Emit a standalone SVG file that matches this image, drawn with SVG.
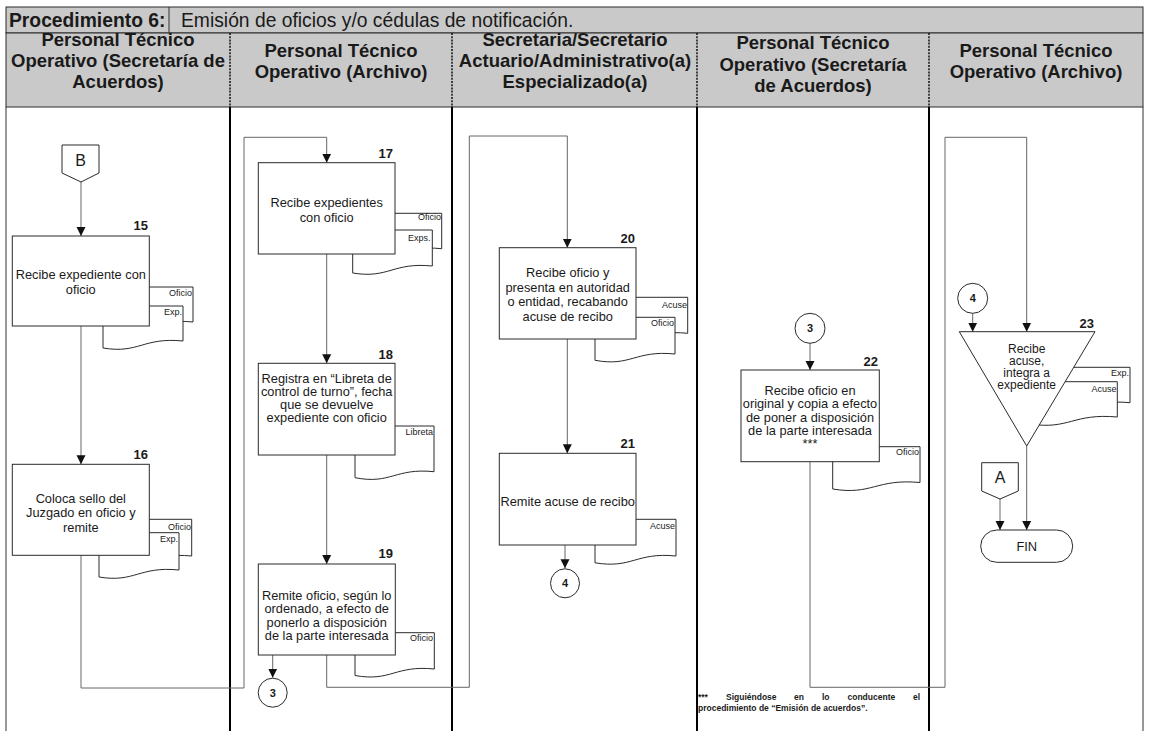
<svg xmlns="http://www.w3.org/2000/svg" width="1149" height="731" viewBox="0 0 1149 731">
<defs>
  <marker id="arr" viewBox="0 0 10 10" refX="10" refY="5" markerWidth="9" markerHeight="10" markerUnits="userSpaceOnUse" orient="auto">
    <path d="M0,0 L10,5 L0,10 Z" fill="#111"/>
  </marker>
</defs>
<style>
  text{font-family:"Liberation Sans",Arial,sans-serif;fill:#1a1a1a}
  .band{fill:#c9c9c9;stroke:#2a2a2a;stroke-width:1}
  .ttl{font-size:19.3px}
  .hd{font-size:18.5px;font-weight:bold;text-anchor:middle}
  .sep{stroke:#111;stroke-width:1.5;stroke-dasharray:2 1.2}
  .lane{stroke:#000;stroke-width:2}
  .edge{stroke:#333;stroke-width:1}
  .box{fill:#fff;stroke:#2a2a2a;stroke-width:1}
  .doc{fill:#fff;stroke:#2a2a2a;stroke-width:1}
  .tx{font-size:12.8px;text-anchor:middle}
  .tri{font-size:12px;text-anchor:middle}
  .num{font-size:13px;font-weight:bold;text-anchor:end}
  .dl{font-size:9px;text-anchor:end}
  .cn{font-size:11px;font-weight:bold;text-anchor:middle}
  .con{fill:none;stroke:#666;stroke-width:1;marker-end:url(#arr)}
  .fn{font-size:8.5px;font-weight:bold}
</style>

<rect width="1149" height="731" fill="#fff"/>

<!-- title and lane headers -->
<g id="header">
  <rect class="band" x="6" y="7" width="1137" height="26"/>
  <rect class="band" x="6" y="33" width="1137" height="74"/>
  <line class="edge" x1="169" y1="7" x2="169" y2="33"/>
  <text class="ttl" x="9" y="26.5" font-weight="bold">Procedimiento 6:</text>
  <text class="ttl" x="181" y="26.5">Emisión de oficios y/o cédulas de notificación.</text>
  <line class="sep" x1="230" y1="33" x2="230" y2="107"/>
  <line class="sep" x1="452" y1="33" x2="452" y2="107"/>
  <line class="sep" x1="697" y1="33" x2="697" y2="107"/>
  <line class="sep" x1="929" y1="33" x2="929" y2="107"/>
  <text class="hd" x="118" y="46">Personal Técnico</text>
  <text class="hd" x="118" y="67">Operativo (Secretaría de</text>
  <text class="hd" x="118" y="88">Acuerdos)</text>
  <text class="hd" x="341" y="57">Personal Técnico</text>
  <text class="hd" x="341" y="78">Operativo (Archivo)</text>
  <text class="hd" x="575" y="46" font-size="19">Secretaria/Secretario</text>
  <text class="hd" x="575" y="67" font-size="19">Actuario/Administrativo(a)</text>
  <text class="hd" x="575" y="88" font-size="19">Especializado(a)</text>
  <text class="hd" x="813" y="49">Personal Técnico</text>
  <text class="hd" x="813" y="70.5">Operativo (Secretaría</text>
  <text class="hd" x="813" y="92">de Acuerdos)</text>
  <text class="hd" x="1036" y="57">Personal Técnico</text>
  <text class="hd" x="1036" y="78">Operativo (Archivo)</text>
</g>

<!-- swimlane body -->
<g id="lanes">
  <line class="edge" x1="6" y1="107" x2="6" y2="731"/>
  <line class="edge" x1="1143" y1="107" x2="1143" y2="731"/>
  <line class="lane" x1="230" y1="107" x2="230" y2="731"/>
  <line class="lane" x1="452" y1="107" x2="452" y2="731"/>
  <line class="lane" x1="697" y1="107" x2="697" y2="731"/>
  <line class="lane" x1="929" y1="107" x2="929" y2="731"/>
</g>

<!-- connectors -->
<g id="connectors">
  <path class="con" d="M81,182 V236"/>
  <path class="con" d="M81,326 V464.3"/>
  <path class="con" d="M81,555 V688 H244 V137.3 H326.7 V162.7"/>
  <path class="con" d="M326.7,254 V363.3"/>
  <path class="con" d="M326.7,455 V564"/>
  <path class="con" d="M272.7,655 V677.7"/>
  <path class="con" d="M326.7,655 V687.3 H469.3 V136 H567.3 V247.7"/>
  <path class="con" d="M567.3,339 V453.3"/>
  <path class="con" d="M565,545 V568.3"/>
  <path class="con" d="M810,343.3 V370"/>
  <path class="con" d="M810,461.7 V687.3 H945 V137.3 H1026.7 V331.7"/>
  <path class="con" d="M972.7,313.3 V331.7"/>
  <path class="con" d="M1026.7,446 V530"/>
  <path class="con" d="M1000,499 V530"/>
</g>

<!-- off-page connector B -->
<g id="connector-B">
  <path class="box" d="M62,145 H99 V173 L81,182 L62,173 Z"/>
  <text x="80.5" y="166" font-size="16" text-anchor="middle">B</text>
</g>

<!-- step 15 -->
<g id="step15">
  <path class="doc" d="M113,287 H193 V322 C153,318 149,335 113,329 Z"/>
  <text class="dl" x="192" y="296">Oficio</text>
  <path class="doc" d="M103,306 H183 V341 C143,337 139,354 103,348 Z"/>
  <text class="dl" x="182" y="315">Exp.</text>
  <rect class="box" x="12.3" y="236" width="137" height="90"/>
  <text class="num" x="148" y="230">15</text>
  <text class="tx" x="80.8" y="278.5">Recibe expediente con</text>
  <text class="tx" x="80.8" y="293.5">oficio</text>
</g>

<!-- step 16 -->
<g id="step16">
  <path class="doc" d="M111.7,519.3 H191.7 V556 C151.7,552 147.7,569 111.7,563 Z"/>
  <text class="dl" x="191" y="530">Oficio</text>
  <path class="doc" d="M99,532.7 H179 V570 C139,566 135,583 99,577 Z"/>
  <text class="dl" x="178" y="542">Exp.</text>
  <rect class="box" x="12.3" y="464.3" width="137" height="91"/>
  <text class="num" x="148" y="459">16</text>
  <text class="tx" x="80.8" y="502.5">Coloca sello del</text>
  <text class="tx" x="80.8" y="517">Juzgado en oficio y</text>
  <text class="tx" x="80.8" y="531.5">remite</text>
</g>

<!-- step 17 -->
<g id="step17">
  <path class="doc" d="M361.7,213.3 H441.7 V248.7 C401.7,244.7 397.7,261.7 361.7,255.7 Z"/>
  <text class="dl" x="441" y="220">Oficio</text>
  <path class="doc" d="M352.7,230 H432.3 V266 C392.7,262 388.7,279 352.7,273 Z"/>
  <text class="dl" x="430.5" y="240.5">Exps.</text>
  <rect class="box" x="258.3" y="162.7" width="136.7" height="91.3"/>
  <text class="num" x="393" y="158">17</text>
  <text class="tx" x="326.7" y="207">Recibe expedientes</text>
  <text class="tx" x="326.7" y="221.5">con oficio</text>
</g>

<!-- step 18 -->
<g id="step18">
  <path class="doc" d="M355,426 H434 V471.7 C395,467.7 391,484.7 355,477.7 Z"/>
  <text class="dl" x="433" y="435">Libreta</text>
  <rect class="box" x="258.3" y="363.3" width="136.7" height="91.7"/>
  <text class="num" x="393" y="359">18</text>
  <text class="tx" x="326.7" y="383">Registra en “Libreta de</text>
  <text class="tx" x="326.7" y="396">control de turno”, fecha</text>
  <text class="tx" x="326.7" y="409">que se devuelve</text>
  <text class="tx" x="326.7" y="422">expediente con oficio</text>
</g>

<!-- step 19 -->
<g id="step19">
  <path class="doc" d="M355,632.7 H434.3 V669 C395,665 391,682 355,675.5 Z"/>
  <text class="dl" x="433" y="641">Oficio</text>
  <rect class="box" x="258.3" y="564" width="137" height="91"/>
  <text class="num" x="393" y="558">19</text>
  <text class="tx" x="326.7" y="599.5">Remite oficio, según lo</text>
  <text class="tx" x="326.7" y="613">ordenado, a efecto de</text>
  <text class="tx" x="326.7" y="626.5">ponerlo a disposición</text>
  <text class="tx" x="326.7" y="640">de la parte interesada</text>
</g>

<!-- on-page connector 3 (lane 2) -->
<g id="conn3a">
  <circle class="box" cx="272.7" cy="692.7" r="14.5"/>
  <text class="cn" x="272.7" y="696.7">3</text>
</g>

<!-- step 20 -->
<g id="step20">
  <path class="doc" d="M607.7,297.3 H687.7 V333.3 C647.7,329.3 643.7,346.3 607.7,340.3 Z"/>
  <text class="dl" x="687" y="307.5">Acuse</text>
  <path class="doc" d="M595,317.3 H675 V354 C635,350 631,367 595,360.3 Z"/>
  <text class="dl" x="674" y="326">Oficio</text>
  <rect class="box" x="499.3" y="247.7" width="136.7" height="91.3"/>
  <text class="num" x="635" y="242.7">20</text>
  <text class="tx" x="567.7" y="277">Recibe oficio y</text>
  <text class="tx" x="567.7" y="291.5">presenta en autoridad</text>
  <text class="tx" x="567.7" y="306">o entidad, recabando</text>
  <text class="tx" x="567.7" y="320.5">acuse de recibo</text>
</g>

<!-- step 21 -->
<g id="step21">
  <path class="doc" d="M595,519.3 H676 V556 C636,552 632,569 595,562.8 Z"/>
  <text class="dl" x="675" y="529">Acuse</text>
  <rect class="box" x="499.3" y="453.3" width="136.7" height="91.7"/>
  <text class="num" x="635" y="448.3">21</text>
  <text class="tx" x="567.7" y="505.5">Remite acuse de recibo</text>
</g>

<!-- on-page connector 4 (lane 3) -->
<g id="conn4a">
  <circle class="box" cx="565" cy="583.3" r="14.5"/>
  <text class="cn" x="565" y="587.3">4</text>
</g>

<!-- on-page connector 3 (lane 4) -->
<g id="conn3b">
  <circle class="box" cx="810" cy="328.3" r="15"/>
  <text class="cn" x="810" y="332.3">3</text>
</g>

<!-- step 22 -->
<g id="step22">
  <path class="doc" d="M832.7,446.7 H920 V482.5 C876,478.5 872,495.5 832.7,489 Z"/>
  <text class="dl" x="919" y="455">Oficio</text>
  <rect class="box" x="741" y="370" width="138.3" height="91.7"/>
  <text class="num" x="878" y="366">22</text>
  <text class="tx" x="810" y="394.5">Recibe oficio en</text>
  <text class="tx" x="810" y="408.3">original y copia a efecto</text>
  <text class="tx" x="810" y="421.8">de poner a disposición</text>
  <text class="tx" x="810" y="435.2">de la parte interesada</text>
  <text class="tx" x="810" y="448">***</text>
</g>

<!-- on-page connector 4 (lane 5) -->
<g id="conn4b">
  <circle class="box" cx="972.7" cy="298.3" r="15"/>
  <text class="cn" x="972.7" y="302.3">4</text>
</g>

<!-- step 23 -->
<g id="step23">
  <path class="doc" d="M1050,367.3 H1130 V402.7 C1090,398.7 1086,415.7 1050,409.7 Z"/>
  <text class="dl" x="1129" y="376">Exp.</text>
  <path class="doc" d="M1030.3,381.7 H1117.3 V417 C1073,413 1069,430 1030.3,424 Z"/>
  <text class="dl" x="1116.5" y="391.5">Acuse</text>
  <path class="box" d="M959.3,331.7 H1095 L1026.7,446 Z"/>
  <text class="num" x="1094" y="328.3">23</text>
  <text class="tri" x="1026.7" y="353">Recibe</text>
  <text class="tri" x="1026.7" y="365">acuse,</text>
  <text class="tri" x="1026.7" y="377">integra a</text>
  <text class="tri" x="1026.7" y="389">expediente</text>
</g>

<!-- off-page connector A -->
<g id="connector-A">
  <path class="box" d="M981.7,462.7 H1018.3 V491 L1000,499 L981.7,491 Z"/>
  <text x="1000" y="483" font-size="16" text-anchor="middle">A</text>
</g>

<!-- end terminator -->
<g id="fin">
  <rect class="box" x="980.7" y="530" width="92" height="32.3" rx="16.15"/>
  <text class="tx" x="1026.7" y="550.5">FIN</text>
</g>

<!-- footnote, first line justified word by word -->
<g id="footnote">
  <text class="fn" x="698" y="700">***</text>
  <text class="fn" x="726" y="700">Siguiéndose</text>
  <text class="fn" x="794" y="700">en</text>
  <text class="fn" x="822" y="700">lo</text>
  <text class="fn" x="847.5" y="700">conducente</text>
  <text class="fn" x="920" y="700" text-anchor="end">el</text>
  <text class="fn" x="698" y="711">procedimiento de “Emisión de acuerdos”.</text>
</g>
</svg>
